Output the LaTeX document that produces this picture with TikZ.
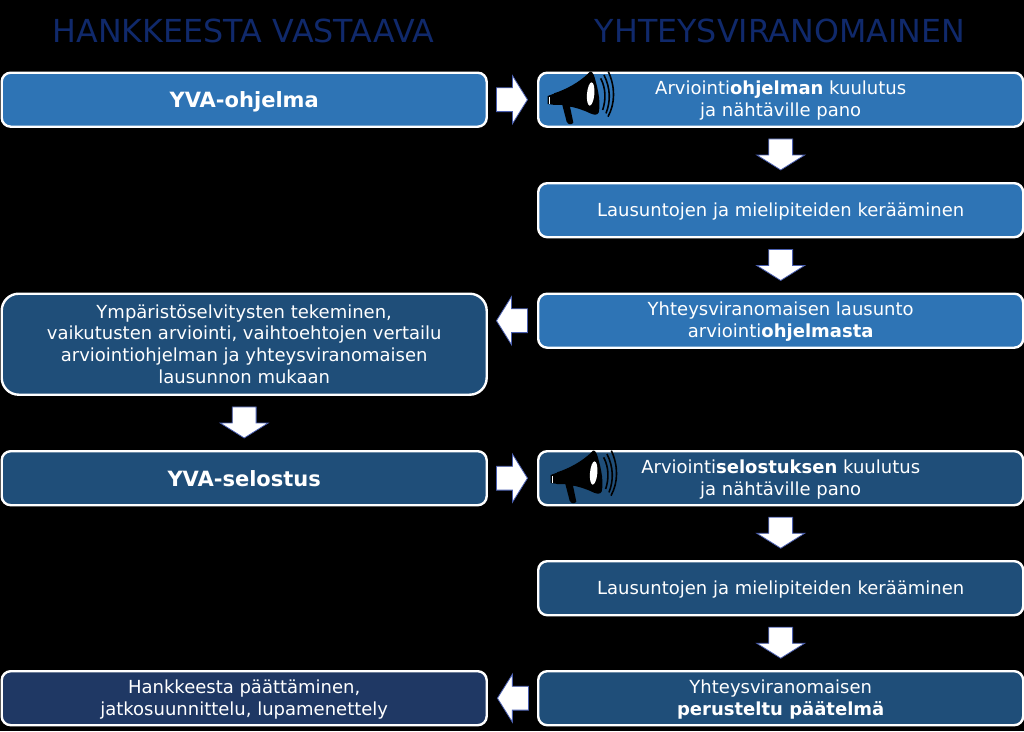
\documentclass[tikz,border=0pt]{standalone}
\usepackage{fontspec}
\setmainfont{DejaVu Sans}
\usetikzlibrary{shapes.arrows,calc}
\definecolor{cA}{HTML}{2E74B5}
\definecolor{cC}{HTML}{1F4E79}
\definecolor{cD}{HTML}{1F3864}
\definecolor{cHead}{HTML}{10296B}
\definecolor{cEdge}{HTML}{4A5FB0}
\tikzset{
 x=1pt,y=-1pt,
 box/.style={draw=white,line width=2.4pt,rounded corners=9pt,anchor=north west,inner sep=0pt,minimum width=485pt,minimum height=54pt},
 head/.style={text=cHead,font=\fontsize{31.7}{35}\selectfont,inner sep=0pt},
 lbl/.style={text=white,align=center,inner sep=0pt,yshift=-1pt,font=\fontsize{18}{21.8}\selectfont},
 lblb/.style={lbl,yshift=-1pt,font=\fontsize{21}{25}\selectfont\bfseries},
 blockarrow/.style={single arrow,fill=white,draw=cEdge,line width=.8pt,inner sep=0pt,minimum height=31pt,single arrow head extend=12pt,single arrow tip angle=116,rotate=#1,xshift=-4.2pt},
}
\newcommand{\shaft}{\rule{0pt}{23pt}}
\newcommand{\megaphone}[2]{%
 \begin{scope}[shift={(#1,#2)},x=.3333pt,y=-.3333pt]
  \fill[black] (222,100) .. controls (260,88) and (300,65) .. (325,40) .. controls (332,28) and (340,35) .. (346,60) .. controls (356,95) and (362,130) .. (356,158) .. controls (350,168) and (340,165) .. (320,155) .. controls (295,145) and (275,140) .. (270,140) -- (280,188) .. controls (275,195) and (265,195) .. (260,185) -- (247,135) -- (222,135) -- cycle;
  \fill[black] (203,108) -- (225,100) -- (225,135) -- (203,132) -- cycle;
  \fill[white] (207,112) rectangle (213,131);
  \fill[black] (209,112) rectangle (211,131);
  \fill[white,rotate around={-5:(332,102)}] (332,102) ellipse (11 and 35);
  \draw[black,line width=1.6pt] (362,55) .. controls (378,85) and (378,120) .. (368,150);
  \draw[black,line width=1.6pt] (372,45) .. controls (392,85) and (392,125) .. (378,160);
  \draw[black,line width=1.6pt] (385,35) .. controls (406,80) and (406,130) .. (384,170);
 \end{scope}}
\begin{document}
\begin{tikzpicture}
\useasboundingbox[fill=black] (0,0) rectangle (1024,731);
\node[head] (h1) at (243.5,31) {HANKKEESTA VASTAAVA};
\node[head] (h2) at (780,31) {YHTEYSVIRANOMAINEN};

\node[box,fill=cA] (l1) at (0.5,71.5) {};
\node[box,fill=cA] (r1) at (537,71.5) {};
\node[box,fill=cA] (r2) at (537,182) {};
\node[box,fill=cA] (r3) at (537,292.5) {};
\node[box,fill=cC,minimum height=101pt,rounded corners=17pt] (l2) at (0.5,292.5) {};
\node[box,fill=cC] (l3) at (0.5,450) {};
\node[box,fill=cC] (r4) at (537,450) {};
\node[box,fill=cC] (r5) at (537,560) {};
\node[box,fill=cC] (r6) at (537,670) {};
\node[box,fill=cD] (l4) at (0.5,670) {};

\megaphone{480}{60}
\megaphone{483}{439}

\node[lblb] (t1) at (l1.center) {YVA-ohjelma};
\node[lbl] (t2) at (r1.center) {Arviointi\textbf{ohjelman} kuulutus\\ja nähtäville pano};
\node[lbl] (t3) at (r2.center) {Lausuntojen ja mielipiteiden kerääminen};
\node[lbl] (t4) at (r3.center) {Yhteysviranomaisen lausunto\\arviointi\textbf{ohjelmasta}};
\node[lbl,yshift=1.2pt] (t5) at (l2.center) {Ympäristöselvitysten tekeminen,\\vaikutusten arviointi, vaihtoehtojen vertailu\\arviointiohjelman ja yhteysviranomaisen\\lausunnon mukaan};
\node[lblb,yshift=1.5pt] (t6) at (l3.center) {YVA-selostus};
\node[lbl] (t7) at (r4.center) {Arviointi\textbf{selostuksen} kuulutus\\ja nähtäville pano};
\node[lbl] (t8) at (r5.center) {Lausuntojen ja mielipiteiden kerääminen};
\node[lbl] (t9) at (r6.center) {Yhteysviranomaisen\\\textbf{perusteltu päätelmä}};
\node[lbl] (t10) at (l4.center) {Hankkeesta päättäminen,\\jatkosuunnittelu, lupamenettely};

\node[blockarrow=0] (a1) at ($(l1.east)!.5!(r1.west)$) {\shaft};
\node[blockarrow=270] (a2) at ($(r1.south)!.5!(r2.north)$) {\shaft};
\node[blockarrow=270] (a3) at ($(r2.south)!.5!(r3.north)$) {\shaft};
\node[blockarrow=180] (a4) at ($(r3.west)+(-25.5,0)$) {\shaft};
\node[blockarrow=270] (a5) at ($(l2.south)!.5!(l3.north)$) {\shaft};
\node[blockarrow=0] (a6) at ($(l3.east)!.5!(r4.west)$) {\shaft};
\node[blockarrow=270] (a7) at ($(r4.south)!.5!(r5.north)$) {\shaft};
\node[blockarrow=270] (a8) at ($(r5.south)!.5!(r6.north)$) {\shaft};
\node[blockarrow=180] (a9) at ($(l4.east)!.5!(r6.west)$) {\shaft};
\end{tikzpicture}
\end{document}
